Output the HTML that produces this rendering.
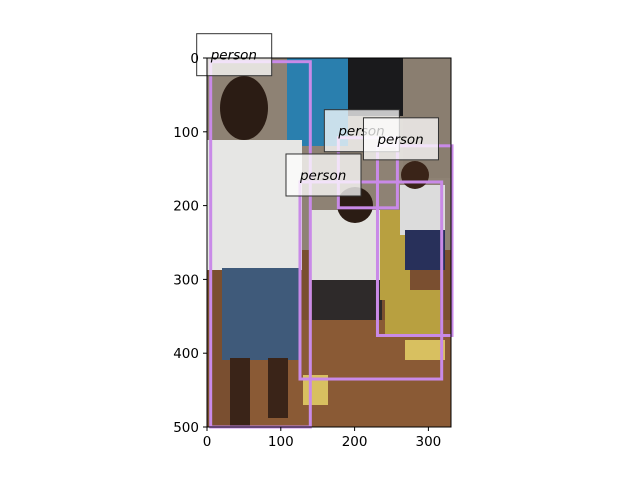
<!DOCTYPE html>
<html><head><meta charset="utf-8"><style>
html,body{margin:0;padding:0;background:#fff;}
svg{display:block;font-family:"DejaVu Sans","Liberation Sans",sans-serif;}
</style></head><body>
<svg id="chart" width="640" height="480" viewBox="0 0 640 480" xmlns="http://www.w3.org/2000/svg">
<g id="photo">
  <rect x="207" y="58" width="244" height="369" fill="#8e8274"/>
  <rect x="287" y="58" width="61" height="88" fill="#2a7fae"/>
  <rect x="348" y="58" width="55" height="58" fill="#1a1a1c"/>
  <rect x="403" y="58" width="48" height="120" fill="#8a7e70"/>
  <rect x="207" y="250" width="244" height="177" fill="#7a4f30"/>
  <rect x="250" y="320" width="201" height="107" fill="#8a5a35"/>
  <ellipse cx="244" cy="108" rx="24" ry="32" fill="#2b1c14"/>
  <rect x="207" y="140" width="95" height="130" fill="#e6e6e4"/>
  <rect x="222" y="268" width="78" height="92" fill="#3f5a7a"/>
  <rect x="230" y="358" width="20" height="69" fill="#3a2418"/>
  <rect x="268" y="358" width="20" height="60" fill="#3a2418"/>
  <rect x="310" y="210" width="70" height="70" fill="#e2e2de"/>
  <rect x="312" y="280" width="70" height="40" fill="#2e2a2a"/>
  <rect x="380" y="210" width="30" height="90" fill="#b8a040"/>
  <rect x="385" y="290" width="55" height="45" fill="#b8a040"/>
  <rect x="400" y="185" width="45" height="50" fill="#dcdcdc"/>
  <rect x="405" y="230" width="40" height="40" fill="#28305a"/>
  <ellipse cx="355" cy="205" rx="18" ry="18" fill="#2b1c14"/>
  <ellipse cx="415" cy="175" rx="14" ry="14" fill="#3a2418"/>
  <rect x="303" y="375" width="25" height="30" fill="#d8c060"/>
  <rect x="405" y="340" width="40" height="20" fill="#d8c060"/>
</g>
<g id="boxes"></g>
<g id="labels"></g>
<rect x="207" y="58" width="244" height="369" fill="none" stroke="#000" stroke-width="1"/>
<g id="axes"></g>
</svg>
<script>
const xTicks = [0, 100, 200, 300];
const yTicks = [0, 100, 200, 300, 400, 500];
const boxLabels = ["person", "person", "person", "person"];
const boxX1 = [5, 126, 178, 231];
const boxY1 = [5, 168, 108, 119];
const boxX2 = [140, 318, 258, 332];
const boxY2 = [500, 435, 203, 376];
const imgW = 331, imgH = 500;
const NS = "http://www.w3.org/2000/svg";
const L = 207, T = 58, S = 369 / 500;
const sx = v => L + v * S;
const sy = v => T + v * S;
function mk(tag, attrs, parent) {
  const e = document.createElementNS(NS, tag);
  for (const k in attrs) e.setAttribute(k, attrs[k]);
  parent.appendChild(e);
  return e;
}
const gb = document.getElementById('boxes');
const gl = document.getElementById('labels');
const ga = document.getElementById('axes');
for (let i = 0; i < boxLabels.length; i++) {
  const r = mk('rect', {x: sx(boxX1[i]), y: sy(boxY1[i]), width: sx(boxX2[i]) - sx(boxX1[i]), height: sy(boxY2[i]) - sy(boxY1[i]), fill: 'none', stroke: '#c98ae8', 'stroke-width': 3}, gb);
  
  
}
for (let i = 0; i < boxLabels.length; i++) {
  const x = sx(boxX1[i]), y = sy(boxY1[i]);
  const b = mk('rect', {x: x - 14, y: y - 28, width: 75, height: 42, fill: 'rgba(255,255,255,0.75)', stroke: '#333', 'stroke-width': 1}, gl);
  
  
  const t = mk('text', {x: x, y: y - 2, 'font-size': 13.5, 'font-style': 'italic', fill: '#000'}, gl);
  t.textContent = boxLabels[i];
  
  
}
xTicks.forEach(v => {
  const ln = mk('line', {x1: sx(v), x2: sx(v), y1: 427, y2: 431, stroke: '#000'}, ga);
  
  
  const t = mk('text', {x: sx(v), y: 446, 'font-size': 13.5, 'text-anchor': 'middle'}, ga);
  t.textContent = v;
  
  
});
yTicks.forEach(v => {
  const ln = mk('line', {x1: 203, x2: 207, y1: sy(v), y2: sy(v), stroke: '#000'}, ga);
  
  
  const t = mk('text', {x: 199, y: sy(v) + 5, 'font-size': 13.5, 'text-anchor': 'end'}, ga);
  t.textContent = v;
  
  
});
</script>
</body></html>
